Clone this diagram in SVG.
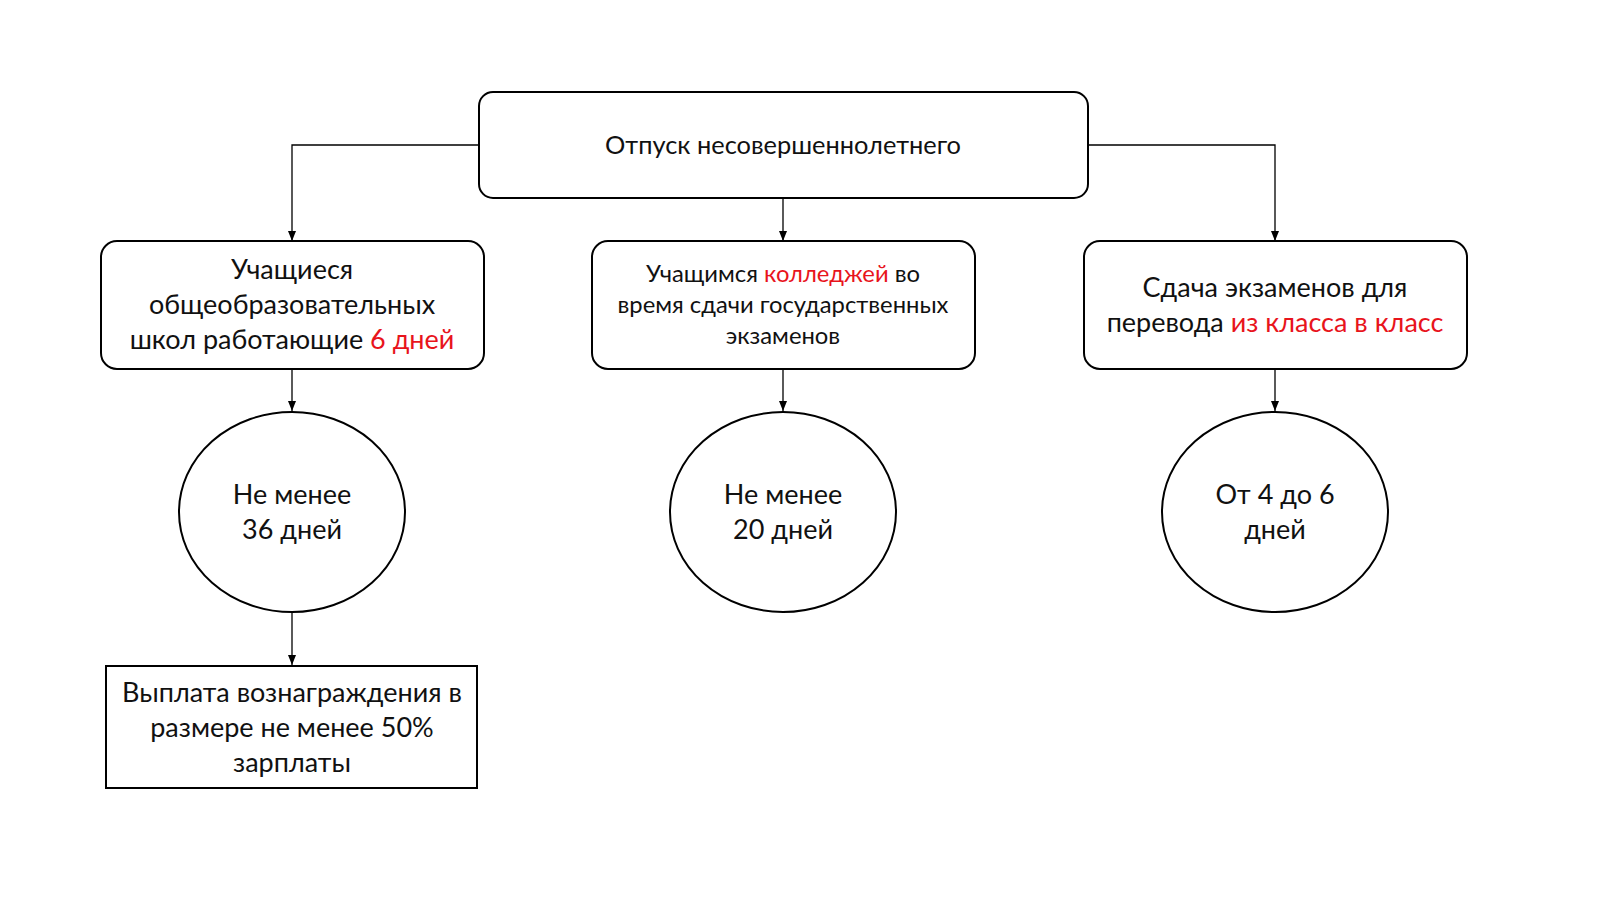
<svg xmlns="http://www.w3.org/2000/svg" width="1600" height="899" viewBox="0 0 1600 899">
<defs>
<marker id="ah" viewBox="0 0 10 10" refX="10" refY="5" markerWidth="8" markerHeight="8" orient="auto"><path d="M0,1 L10,5 L0,9 z" fill="#000"/></marker>
<style>
.b{fill:#fff;stroke:#000;stroke-width:2}
text{font-family:Lato,"Noto Sans",sans-serif;fill:#111;text-anchor:middle;dominant-baseline:middle}
.t{font-size:27px}.s{font-size:23.8px}.h{font-size:25.4px}
.r{fill:#e8141c}
.c{fill:none;stroke:#000;stroke-width:1.3;marker-end:url(#ah)}
</style>
</defs>
<rect width="1600" height="899" fill="#fff"/>
<g id="connectors">
<path class="c" d="M479,145 H292 V241"/>
<path class="c" d="M1088,145 H1275 V241"/>
<path class="c" d="M783,198 V241"/>
<path class="c" d="M292,369 V411"/>
<path class="c" d="M783,369 V411"/>
<path class="c" d="M1275,369 V411"/>
<path class="c" d="M292,612 V665"/>
</g>
<g id="root"><rect class="b" x="479" y="92" width="609" height="106" rx="14"/><text class="h" x="783" y="148">Отпуск несовершеннолетнего</text></g>
<g id="left"><rect class="b" x="101" y="241" width="383" height="128" rx="16"/>
<text class="t" x="292" y="272">Учащиеся</text>
<text class="t" x="292" y="307">общеобразовательных</text>
<text class="t" x="292" y="342">школ работающие <tspan class="r">6 дней</tspan></text></g>
<g id="mid"><rect class="b" x="592" y="241" width="383" height="128" rx="16"/>
<text class="s" x="783" y="276">Учащимся <tspan class="r">колледжей</tspan> во</text>
<text class="s" x="783" y="307">время сдачи государственных</text>
<text class="s" x="783" y="338">экзаменов</text></g>
<g id="right"><rect class="b" x="1084" y="241" width="383" height="128" rx="16"/>
<text class="t" x="1275" y="290">Сдача экзаменов для</text>
<text class="t" x="1275" y="325">перевода <tspan class="r">из класса в класс</tspan></text></g>
<g id="e1"><ellipse class="b" cx="292" cy="512" rx="113" ry="100"/><text class="t" x="292" y="497">Не менее</text><text class="t" x="292" y="532">36 дней</text></g>
<g id="e2"><ellipse class="b" cx="783" cy="512" rx="113" ry="100"/><text class="t" x="783" y="497">Не менее</text><text class="t" x="783" y="532">20 дней</text></g>
<g id="e3"><ellipse class="b" cx="1275" cy="512" rx="113" ry="100"/><text class="t" x="1275" y="497">От 4 до 6</text><text class="t" x="1275" y="532">дней</text></g>
<g id="pay"><rect class="b" x="106" y="666" width="371" height="122"/>
<text class="t" x="292" y="695">Выплата вознаграждения в</text>
<text class="t" x="292" y="730">размере не менее 50%</text>
<text class="t" x="292" y="765">зарплаты</text></g>
</svg>
